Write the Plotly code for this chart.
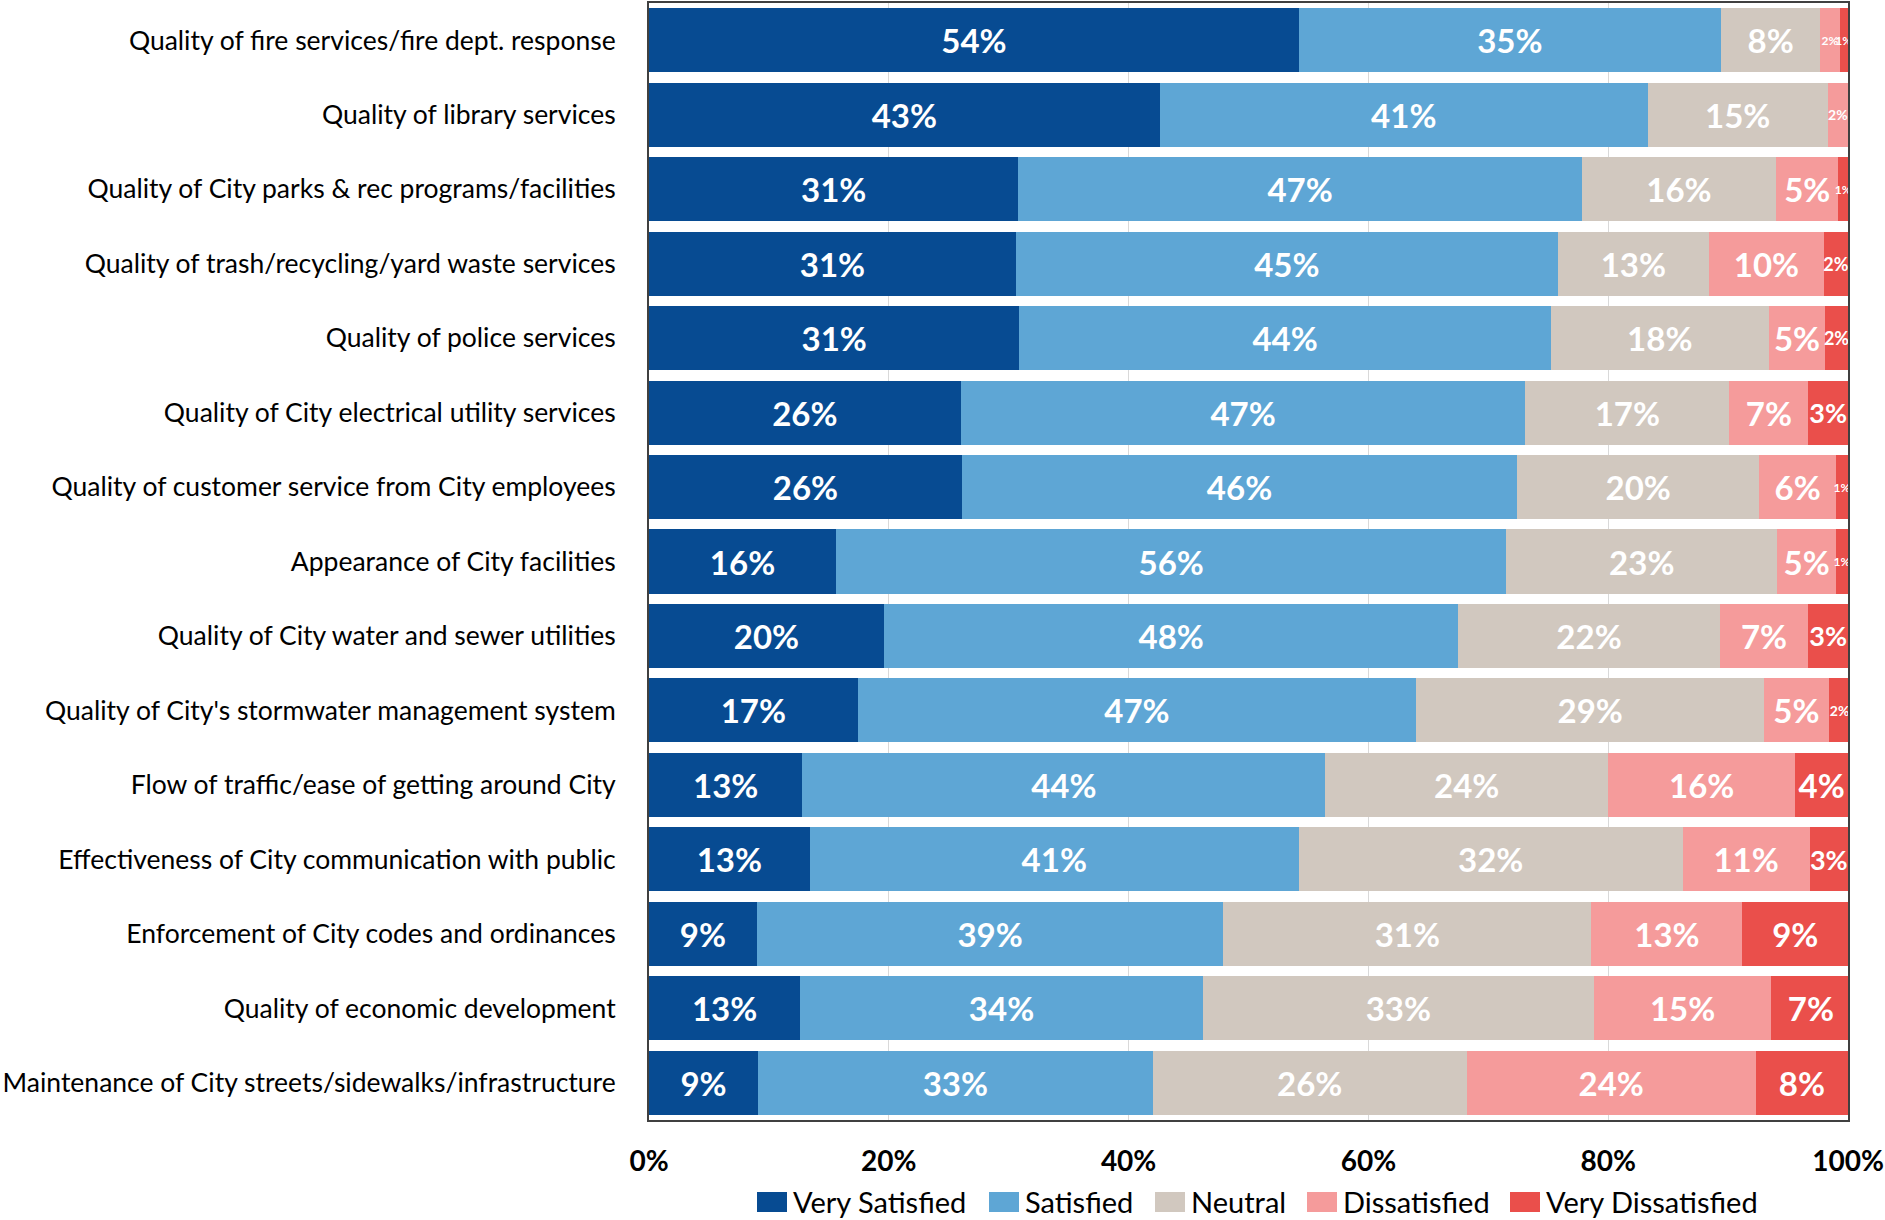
import plotly.graph_objects as go

# Survey items, listed top to bottom
categories = [
    "Quality of fire services/fire dept. response",
    "Quality of library services",
    "Quality of City parks & rec programs/facilities",
    "Quality of trash/recycling/yard waste services",
    "Quality of police services",
    "Quality of City electrical utility services",
    "Quality of customer service from City employees",
    "Appearance of City facilities",
    "Quality of City water and sewer utilities",
    "Quality of City's stormwater management system",
    "Flow of traffic/ease of getting around City",
    "Effectiveness of City communication with public",
    "Enforcement of City codes and ordinances",
    "Quality of economic development",
    "Maintenance of City streets/sidewalks/infrastructure",
]

# Share of respondents (%) per rating
very_satisfied = [54.2, 42.6, 30.8, 30.6, 30.9, 26.0, 26.1, 15.6, 19.6, 17.4, 12.8, 13.4, 9.0, 12.6, 9.1]
satisfied = [35.2, 40.7, 47.0, 45.2, 44.3, 47.1, 46.3, 55.9, 47.9, 46.6, 43.6, 40.8, 38.9, 33.6, 32.9]
neutral = [8.3, 15.0, 16.2, 12.6, 18.2, 17.0, 20.2, 22.6, 21.8, 29.0, 23.6, 32.0, 30.7, 32.6, 26.2]
dissatisfied = [1.6, 1.7, 5.2, 9.6, 4.7, 6.6, 6.4, 4.9, 7.4, 5.4, 15.6, 10.6, 12.6, 14.8, 24.1]
very_dissatisfied = [0.7, 0.0, 0.8, 2.0, 1.9, 3.3, 1.0, 1.0, 3.3, 1.8, 4.4, 3.2, 8.8, 6.6, 7.7]

series_names = ["Very Satisfied", "Satisfied", "Neutral", "Dissatisfied", "Very Dissatisfied"]
series_values = [very_satisfied, satisfied, neutral, dissatisfied, very_dissatisfied]
colors = ["#074B92", "#5EA6D5", "#D1C8BF", "#F59B9B", "#EA4F4B"]

tick_vals = [0, 20, 40, 60, 80, 100]
tick_text = ["0%", "20%", "40%", "60%", "80%", "100%"]

FONT = "Lato"
W, H = 1885, 1220
M_L, M_R, M_T, M_B = 649, 37, 3, 100
PLOT_W = W - M_L - M_R
PLOT_H = H - M_T - M_B


def label_size(v):
    # narrow segments get smaller labels that may spill past the segment
    if v >= 3.5:
        return 33
    if v >= 2.5:
        return 27
    if v >= 1.85:
        return 18
    if v >= 1.65:
        return 14
    return 12


fig = go.Figure()
for name, vals, col in zip(series_names, series_values, colors):
    labels = [f"{int(v + 0.5)}%" if v >= 0.5 else "" for v in vals]
    fig.add_trace(go.Bar(
        name=name,
        y=categories,
        x=vals,
        orientation="h",
        marker=dict(color=col, line=dict(width=0)),
        text=labels,
        textposition="inside",
        insidetextanchor="middle",
        textangle=0,
        constraintext="none",
        textfont=dict(family=FONT, size=[label_size(v) for v in vals],
                      color="white", weight="bold"),
        hoverinfo="skip",
        showlegend=False,
    ))


def px_to_paper_x(px):
    return (px - M_L) / PLOT_W


def px_to_paper_y(py):
    return (H - M_B - py) / PLOT_H


# Legend row below the axis: colour swatch followed by its label
legend_left_px = [757, 989, 1155, 1307, 1510]
swatch_w, swatch_top, swatch_bottom = 30, 1192, 1212
shapes = []
annotations = []
for name, col, x0 in zip(series_names, colors, legend_left_px):
    shapes.append(dict(
        type="rect", xref="paper", yref="paper",
        x0=px_to_paper_x(x0), x1=px_to_paper_x(x0 + swatch_w),
        y0=px_to_paper_y(swatch_bottom), y1=px_to_paper_y(swatch_top),
        fillcolor=col, line=dict(width=0), layer="above",
    ))
    annotations.append(dict(
        text=name, xref="paper", yref="paper",
        x=px_to_paper_x(x0 + swatch_w + 4), xanchor="left",
        y=px_to_paper_y(1201), yanchor="middle",
        showarrow=False,
        font=dict(family=FONT, size=29, color="black"),
    ))

fig.update_layout(
    barmode="stack",
    bargap=0.14,
    width=W,
    height=H,
    margin=dict(l=M_L, r=M_R, t=M_T, b=M_B),
    paper_bgcolor="white",
    plot_bgcolor="white",
    font=dict(family=FONT, color="black"),
    showlegend=False,
    shapes=shapes,
    annotations=annotations,
    xaxis=dict(
        range=[0, 100],
        tickvals=tick_vals,
        ticktext=tick_text,
        tickfont=dict(family=FONT, size=28, color="black", weight="bold"),
        ticklabelstandoff=15,
        ticklabeloverflow="allow",
        showgrid=True,
        gridcolor="#D9D9D9",
        gridwidth=1,
        zeroline=False,
        showline=True,
        linecolor="#404040",
        linewidth=2,
        mirror=True,
        ticks="",
        automargin=False,
        fixedrange=True,
    ),
    yaxis=dict(
        categoryorder="array",
        categoryarray=categories,
        range=[14.5, -0.5],
        tickfont=dict(family=FONT, size=26.5, color="black"),
        ticklabelstandoff=26,
        ticklabeloverflow="allow",
        showgrid=False,
        showline=True,
        linecolor="#404040",
        linewidth=2,
        mirror=True,
        ticks="",
        automargin=False,
        fixedrange=True,
    ),
)

fig.write_html("out.html")
